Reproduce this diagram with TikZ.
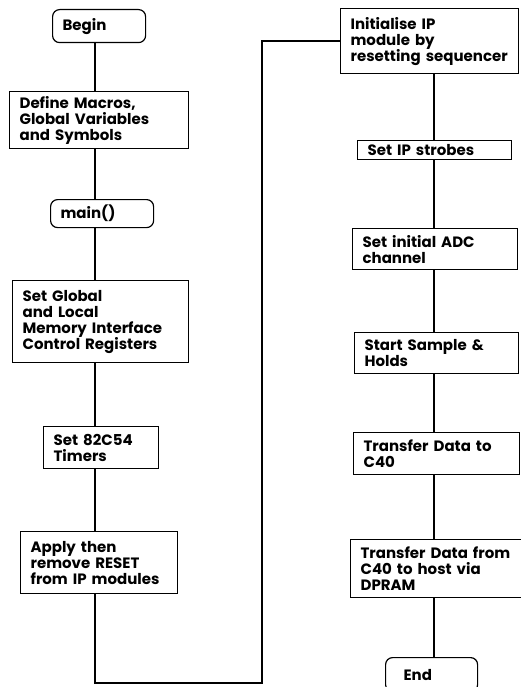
\documentclass[tikz,border=0pt]{standalone}
\usepackage{fontspec}
\setmainfont{Poppins}
\usepackage{tikz}

\begin{document}
\begin{tikzpicture}[x=1pt, y=-1pt,
  stepbox/.style={draw, line width=1.2pt, anchor=north west, align=left, inner xsep=10pt, inner ysep=1pt, font=\fontsize{15}{16}\selectfont\bfseries},
  terminal/.style={stepbox, rounded corners=7pt},
  link/.style={line width=1.8pt}]

  \useasboundingbox (0,0) rectangle (520,687);
  \coordinate (lspine) at (95,0);
  \coordinate (rspine) at (434,0);
  \coordinate (loop) at (262,683);

  % left column
  \node[terminal, text width=73pt, minimum height=33pt] (begin) at (52,9) {Begin};
  \node[stepbox, text width=159pt, minimum height=57pt] (define) at (9,91) {Define Macros,\\Global Variables\\and Symbols};
  \node[terminal, text width=83pt, minimum height=28pt] (main) at (50,199) {main()};
  \node[stepbox, text width=156pt, minimum height=82pt] (glob) at (12,280) {Set Global\\and Local\\Memory Interface\\Control Registers};
  \node[stepbox, text width=95pt, minimum height=42pt] (timers) at (43,426) {Set 82C54\\Timers};
  \node[stepbox, text width=137pt, minimum height=62pt] (apply) at (20,531) {Apply then\\remove RESET\\from IP modules};

  % right column
  \node[stepbox, text width=158pt, minimum height=65pt] (init) at (340,8) {Initialise IP\\module by\\resetting sequencer};
  \node[stepbox, text width=134pt, minimum height=19pt] (strobes) at (357,140) {Set IP strobes};
  \node[stepbox, text width=145pt, minimum height=41pt] (adc) at (352,228) {Set initial ADC\\channel};
  \node[stepbox, text width=144pt, minimum height=41pt] (sample) at (354,332) {Start Sample \&\\Holds};
  \node[stepbox, text width=146pt, minimum height=42pt] (todsp) at (353,432) {Transfer Data to\\C40};
  \node[stepbox, text width=152pt, minimum height=58pt] (tohost) at (350,539) {Transfer Data from\\C40 to host via\\DPRAM};
  \node[terminal, text width=72pt, minimum height=34pt] (end) at (385,657) {\hspace*{8pt}End};

  \draw[link] (begin.south -| lspine) -- (define.north -| lspine);
  \draw[link] (define.south -| lspine) -- (main.north -| lspine);
  \draw[link] (main.south -| lspine) -- (glob.north -| lspine);
  \draw[link] (glob.south -| lspine) -- (timers.north -| lspine);
  \draw[link] (timers.south -| lspine) -- (apply.north -| lspine);
  \draw[link] (apply.south -| lspine) |- (loop) |- (init.west);
  \draw[link] (init.south -| rspine) -- (strobes.north -| rspine);
  \draw[link] (strobes.south -| rspine) -- (adc.north -| rspine);
  \draw[link] (adc.south -| rspine) -- (sample.north -| rspine);
  \draw[link] (sample.south -| rspine) -- (todsp.north -| rspine);
  \draw[link] (todsp.south -| rspine) -- (tohost.north -| rspine);
  \draw[link] (tohost.south -| rspine) -- (end.north -| rspine);
\end{tikzpicture}
\end{document}
